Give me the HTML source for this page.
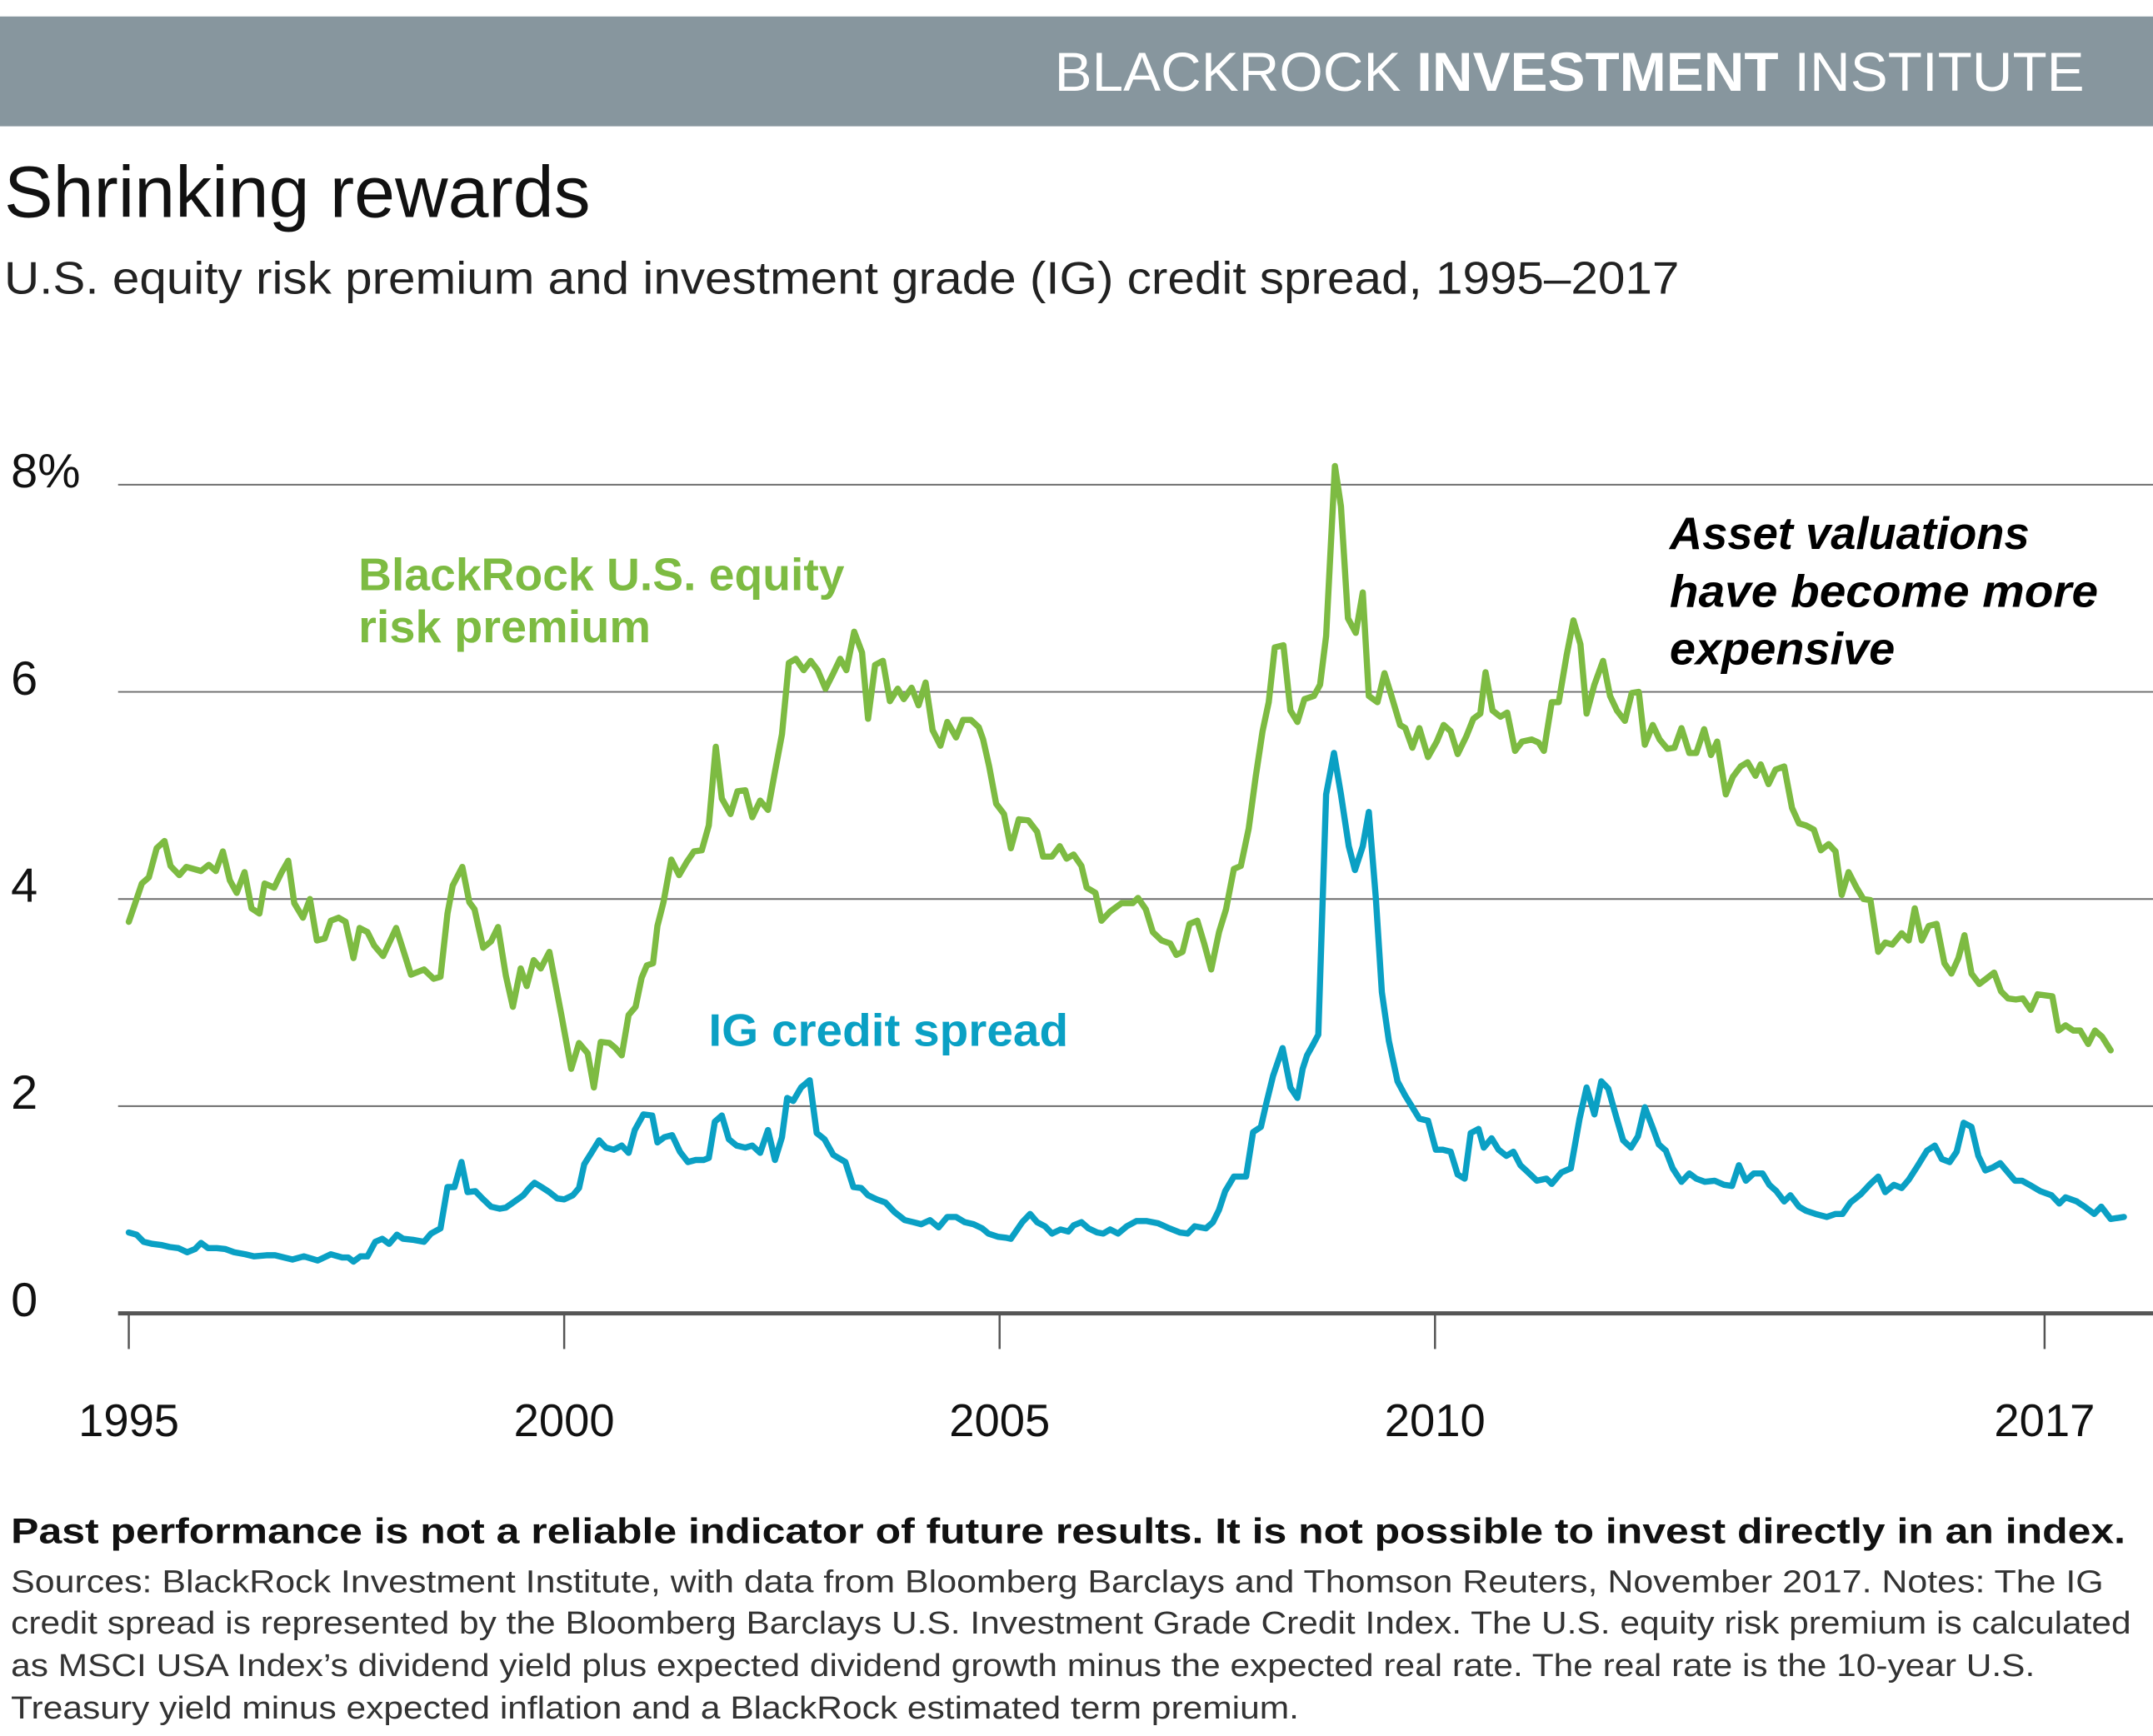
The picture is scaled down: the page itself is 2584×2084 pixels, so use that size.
<!DOCTYPE html>
<html><head><meta charset="utf-8"><style>
html,body{margin:0;padding:0;background:#fff;}
svg{display:block;}
text{font-family:"Liberation Sans",sans-serif;}
</style></head><body>
<svg id="chart" width="2584" height="2084" viewBox="0 0 1568 1264.6" xmlns="http://www.w3.org/2000/svg">
<rect x="0" y="12" width="1568" height="80" fill="#87969e"/>
<text x="768" y="66" font-size="40" fill="#fff" textLength="750" lengthAdjust="spacingAndGlyphs"><tspan font-weight="normal">BLACKROCK </tspan><tspan font-weight="bold">INVESTMENT</tspan><tspan> INSTITUTE</tspan></text>
<text x="3" y="158" font-size="53" fill="#111" textLength="427" lengthAdjust="spacingAndGlyphs">Shrinking rewards</text>
<text x="3" y="214" font-size="33" fill="#222" textLength="1220" lengthAdjust="spacingAndGlyphs">U.S. equity risk premium and investment grade (IG) credit spread, 1995–2017</text>
<g id="grid"></g>
<g id="series"></g>
<text x="261" y="430" font-size="33" font-weight="bold" fill="#7dbb42" textLength="354" lengthAdjust="spacingAndGlyphs">BlackRock U.S. equity</text>
<text x="261" y="468" font-size="33" font-weight="bold" fill="#7dbb42" textLength="213" lengthAdjust="spacingAndGlyphs">risk premium</text>
<text x="516" y="762" font-size="33" font-weight="bold" fill="#0aa0c4" textLength="262" lengthAdjust="spacingAndGlyphs">IG credit spread</text>
<g font-size="33" font-style="italic" font-weight="bold" fill="#000">
<text x="1216" y="400" textLength="262" lengthAdjust="spacingAndGlyphs">Asset valuations</text>
<text x="1216" y="442" textLength="312" lengthAdjust="spacingAndGlyphs">have become more</text>
<text x="1216" y="484" textLength="164" lengthAdjust="spacingAndGlyphs">expensive</text>
</g>
<text x="8" y="1124" font-size="26" font-weight="bold" fill="#111" textLength="1540" lengthAdjust="spacingAndGlyphs">Past performance is not a reliable indicator of future results. It is not possible to invest directly in an index.</text>
<g font-size="23" fill="#333">
<text x="8" y="1160" textLength="1524" lengthAdjust="spacingAndGlyphs">Sources: BlackRock Investment Institute, with data from Bloomberg Barclays and Thomson Reuters, November 2017. Notes: The IG</text>
<text x="8" y="1190" textLength="1544" lengthAdjust="spacingAndGlyphs">credit spread is represented by the Bloomberg Barclays U.S. Investment Grade Credit Index. The U.S. equity risk premium is calculated</text>
<text x="8" y="1221" textLength="1474" lengthAdjust="spacingAndGlyphs">as MSCI USA Index’s dividend yield plus expected dividend growth minus the expected real rate. The real rate is the 10-year U.S.</text>
<text x="8" y="1252" textLength="938" lengthAdjust="spacingAndGlyphs">Treasury yield minus expected inflation and a BlackRock estimated term premium.</text>
</g>
</svg>
<script>
const yTicks = [0, 2, 4, 6, 8];
const yTickLabels = ["0", "2", "4", "6", "8%"];
const xTicks = [1995, 2000, 2005, 2010, 2017];
const xTickLabels = ["1995", "2000", "2005", "2010", "2017"];
const erpYears = [1995.0,1995.07,1995.15,1995.23,1995.32,1995.41,1995.48,1995.58,1995.66,1995.83,1995.92,1996.0,1996.08,1996.16,1996.24,1996.33,1996.41,1996.5,1996.56,1996.67,1996.75,1996.83,1996.9,1997.0,1997.08,1997.16,1997.25,1997.32,1997.41,1997.49,1997.58,1997.65,1997.74,1997.82,1997.92,1998.07,1998.15,1998.24,1998.39,1998.5,1998.58,1998.66,1998.72,1998.83,1998.91,1998.97,1999.07,1999.16,1999.24,1999.33,1999.41,1999.5,1999.57,1999.65,1999.73,1999.83,1999.97,2000.08,2000.17,2000.27,2000.34,2000.42,2000.52,2000.59,2000.66,2000.74,2000.82,2000.89,2000.95,2001.02,2001.07,2001.14,2001.23,2001.32,2001.41,2001.49,2001.58,2001.66,2001.74,2001.81,2001.91,2001.99,2002.08,2002.16,2002.25,2002.34,2002.42,2002.5,2002.58,2002.66,2002.75,2002.83,2002.91,2003.0,2003.09,2003.17,2003.24,2003.33,2003.42,2003.49,2003.57,2003.66,2003.74,2003.83,2003.9,2003.99,2004.07,2004.15,2004.23,2004.32,2004.4,2004.5,2004.58,2004.67,2004.76,2004.81,2004.88,2004.96,2005.05,2005.13,2005.22,2005.33,2005.43,2005.5,2005.6,2005.69,2005.77,2005.85,2005.94,2006.0,2006.1,2006.17,2006.27,2006.4,2006.53,2006.59,2006.68,2006.76,2006.86,2006.96,2007.03,2007.1,2007.18,2007.27,2007.35,2007.43,2007.52,2007.6,2007.69,2007.77,2007.86,2007.94,2008.02,2008.09,2008.16,2008.26,2008.34,2008.42,2008.5,2008.61,2008.68,2008.75,2008.85,2008.92,2009.0,2009.09,2009.17,2009.24,2009.34,2009.42,2009.5,2009.6,2009.66,2009.74,2009.82,2009.92,2010.02,2010.1,2010.18,2010.26,2010.36,2010.44,2010.52,2010.58,2010.66,2010.75,2010.83,2010.92,2011.0,2011.11,2011.19,2011.25,2011.34,2011.42,2011.51,2011.59,2011.67,2011.74,2011.83,2011.93,2012.01,2012.09,2012.18,2012.26,2012.34,2012.41,2012.5,2012.58,2012.67,2012.75,2012.83,2012.92,2013.0,2013.09,2013.17,2013.24,2013.34,2013.42,2013.51,2013.59,2013.68,2013.74,2013.83,2013.91,2014.01,2014.1,2014.18,2014.26,2014.35,2014.43,2014.52,2014.6,2014.67,2014.75,2014.84,2014.92,2015.0,2015.09,2015.17,2015.25,2015.36,2015.44,2015.51,2015.59,2015.67,2015.76,2015.85,2015.93,2016.01,2016.08,2016.16,2016.25,2016.33,2016.42,2016.5,2016.58,2016.67,2016.75,2016.84,2016.92,2017.01,2017.09,2017.16,2017.24,2017.33,2017.41,2017.5,2017.58,2017.66,2017.76];
const erpValues = [3.78,3.95,4.15,4.21,4.49,4.56,4.32,4.23,4.31,4.27,4.33,4.27,4.46,4.18,4.06,4.26,3.91,3.86,4.15,4.11,4.25,4.37,3.96,3.82,4.0,3.6,3.62,3.79,3.82,3.78,3.43,3.72,3.68,3.55,3.45,3.72,3.51,3.27,3.32,3.23,3.25,3.86,4.13,4.31,3.97,3.9,3.53,3.59,3.73,3.26,2.96,3.33,3.16,3.41,3.33,3.49,2.87,2.36,2.61,2.51,2.18,2.62,2.61,2.56,2.49,2.88,2.96,3.24,3.36,3.38,3.74,3.97,4.38,4.23,4.36,4.46,4.47,4.71,5.47,4.97,4.82,5.04,5.05,4.79,4.95,4.86,5.23,5.59,6.28,6.32,6.21,6.3,6.21,6.03,6.18,6.32,6.21,6.58,6.38,5.74,6.26,6.3,5.91,6.03,5.93,6.04,5.87,6.09,5.63,5.48,5.71,5.56,5.73,5.73,5.66,5.54,5.28,4.92,4.82,4.49,4.77,4.76,4.65,4.41,4.41,4.51,4.39,4.43,4.32,4.11,4.06,3.79,3.88,3.96,3.96,4.01,3.9,3.68,3.6,3.57,3.46,3.49,3.76,3.79,3.57,3.32,3.68,3.9,4.29,4.32,4.68,5.18,5.62,5.9,6.43,6.45,5.82,5.71,5.93,5.96,6.07,6.54,8.18,7.79,6.71,6.57,6.96,5.96,5.9,6.18,5.96,5.68,5.65,5.46,5.65,5.37,5.52,5.68,5.62,5.4,5.57,5.74,5.79,6.19,5.82,5.76,5.8,5.43,5.52,5.54,5.51,5.43,5.9,5.9,6.35,6.69,6.46,5.79,6.07,6.3,5.96,5.82,5.72,5.99,6.0,5.49,5.68,5.54,5.45,5.46,5.65,5.41,5.41,5.64,5.39,5.52,5.01,5.18,5.28,5.32,5.19,5.3,5.11,5.25,5.28,4.88,4.73,4.71,4.67,4.47,4.53,4.46,4.04,4.26,4.11,4.0,3.99,3.49,3.58,3.56,3.67,3.6,3.91,3.6,3.74,3.76,3.38,3.28,3.43,3.65,3.28,3.18,3.23,3.29,3.11,3.04,3.03,3.04,2.93,3.08,3.07,3.06,2.73,2.78,2.73,2.73,2.6,2.73,2.67,2.54];
const igYears = [1995.0,1995.09,1995.17,1995.27,1995.37,1995.47,1995.57,1995.67,1995.76,1995.83,1995.91,1996.01,1996.11,1996.21,1996.34,1996.44,1996.58,1996.68,1996.78,1996.88,1997.01,1997.17,1997.32,1997.45,1997.52,1997.58,1997.66,1997.74,1997.83,1997.91,1997.99,1998.08,1998.15,1998.26,1998.39,1998.47,1998.58,1998.66,1998.74,1998.82,1998.89,1998.98,1999.06,1999.16,1999.26,1999.33,1999.43,1999.53,1999.6,1999.66,1999.74,1999.83,1999.92,2000.0,2000.1,2000.17,2000.23,2000.32,2000.4,2000.48,2000.57,2000.66,2000.74,2000.81,2000.91,2001.01,2001.07,2001.15,2001.24,2001.33,2001.42,2001.51,2001.6,2001.66,2001.73,2001.81,2001.89,2001.98,2002.08,2002.16,2002.25,2002.34,2002.42,2002.5,2002.56,2002.63,2002.72,2002.82,2002.9,2002.99,2003.09,2003.23,2003.32,2003.41,2003.49,2003.59,2003.69,2003.79,2003.91,2004.01,2004.1,2004.2,2004.3,2004.4,2004.5,2004.6,2004.7,2004.8,2004.87,2004.98,2005.07,2005.13,2005.26,2005.35,2005.43,2005.52,2005.6,2005.7,2005.79,2005.85,2005.94,2006.02,2006.12,2006.19,2006.27,2006.36,2006.46,2006.57,2006.69,2006.82,2006.95,2007.07,2007.16,2007.24,2007.37,2007.45,2007.52,2007.59,2007.69,2007.83,2007.91,2008.0,2008.06,2008.14,2008.25,2008.34,2008.42,2008.48,2008.53,2008.59,2008.66,2008.75,2008.84,2008.92,2009.01,2009.08,2009.17,2009.24,2009.32,2009.39,2009.47,2009.57,2009.66,2009.74,2009.82,2009.92,2010.01,2010.09,2010.18,2010.26,2010.34,2010.41,2010.5,2010.56,2010.65,2010.73,2010.82,2010.9,2010.98,2011.07,2011.17,2011.28,2011.34,2011.45,2011.56,2011.66,2011.74,2011.83,2011.91,2011.99,2012.08,2012.16,2012.25,2012.33,2012.41,2012.5,2012.57,2012.65,2012.73,2012.83,2012.92,2013.0,2013.1,2013.21,2013.32,2013.41,2013.49,2013.57,2013.66,2013.76,2013.84,2013.92,2014.01,2014.08,2014.18,2014.26,2014.37,2014.5,2014.6,2014.68,2014.77,2014.89,2015.0,2015.09,2015.17,2015.27,2015.36,2015.44,2015.54,2015.65,2015.74,2015.82,2015.91,2015.99,2016.07,2016.16,2016.24,2016.32,2016.41,2016.49,2016.58,2016.66,2016.74,2016.85,2016.95,2017.08,2017.17,2017.24,2017.37,2017.46,2017.57,2017.65,2017.76,2017.91];
const igValues = [0.78,0.76,0.69,0.67,0.66,0.64,0.63,0.59,0.62,0.68,0.63,0.63,0.62,0.59,0.57,0.55,0.56,0.56,0.54,0.52,0.55,0.51,0.57,0.54,0.54,0.5,0.55,0.55,0.69,0.72,0.67,0.76,0.72,0.71,0.69,0.77,0.82,1.22,1.22,1.46,1.17,1.18,1.11,1.03,1.01,1.02,1.08,1.14,1.21,1.26,1.22,1.17,1.11,1.1,1.14,1.21,1.44,1.56,1.67,1.6,1.58,1.62,1.55,1.77,1.92,1.91,1.65,1.7,1.72,1.56,1.46,1.48,1.48,1.5,1.85,1.91,1.68,1.62,1.6,1.62,1.55,1.77,1.48,1.7,2.08,2.05,2.18,2.25,1.74,1.68,1.53,1.46,1.22,1.21,1.14,1.1,1.07,0.98,0.9,0.88,0.86,0.9,0.83,0.93,0.93,0.88,0.86,0.82,0.77,0.74,0.73,0.72,0.88,0.96,0.88,0.84,0.77,0.81,0.79,0.85,0.88,0.82,0.78,0.77,0.81,0.77,0.84,0.89,0.89,0.87,0.82,0.78,0.77,0.84,0.82,0.88,1.0,1.18,1.32,1.32,1.75,1.8,2.02,2.29,2.56,2.18,2.08,2.36,2.49,2.58,2.69,5.01,5.41,5.01,4.51,4.28,4.51,4.84,4.01,3.1,2.63,2.24,2.1,1.99,1.88,1.86,1.58,1.58,1.56,1.34,1.3,1.74,1.78,1.6,1.69,1.58,1.52,1.56,1.43,1.36,1.28,1.3,1.25,1.36,1.4,1.88,2.18,1.92,2.24,2.17,1.9,1.67,1.6,1.71,1.99,1.79,1.63,1.57,1.4,1.27,1.35,1.3,1.27,1.28,1.24,1.23,1.43,1.28,1.35,1.35,1.24,1.18,1.08,1.14,1.03,0.99,0.96,0.93,0.96,0.96,1.07,1.15,1.25,1.32,1.17,1.24,1.21,1.29,1.42,1.57,1.62,1.49,1.46,1.56,1.84,1.8,1.52,1.38,1.41,1.45,1.36,1.28,1.28,1.23,1.18,1.14,1.06,1.12,1.08,1.03,0.96,1.03,0.91,0.93];

const NS = "http://www.w3.org/2000/svg";
function xScale(yr){ return 93.8 + (yr - 1995) * 63.42; }
function yScale(v){ return 956.7 - v * 75.45; }
const grid = document.getElementById('grid');
const series = document.getElementById('series');
function mk(tag, attrs, parent){ const e = document.createElementNS(NS, tag); for (const k in attrs) e.setAttribute(k, attrs[k]); parent.appendChild(e); return e; }

yTicks.forEach((t, i) => {
  if (t !== 0) {
    const l = mk('line', {x1: 86, x2: 1568, y1: yScale(t), y2: yScale(t), stroke: '#6d6d6d', 'stroke-width': 1.2}, grid);
    
    
  }
  const tx = mk('text', {x: 8, y: yScale(t) + 2, 'font-size': 35, fill: '#111'}, grid);
  tx.textContent = yTickLabels[i];
  
  
});
const axis = mk('line', {x1: 86, x2: 1568, y1: yScale(0), y2: yScale(0), stroke: '#555', 'stroke-width': 3}, grid);


xTicks.forEach((t, i) => {
  const l = mk('line', {x1: xScale(t), x2: xScale(t), y1: yScale(0), y2: yScale(0) + 26, stroke: '#555', 'stroke-width': 1.5}, grid);
  
  
  const tx = mk('text', {x: xScale(t), y: 1046, 'font-size': 33, fill: '#111', 'text-anchor': 'middle'}, grid);
  tx.textContent = xTickLabels[i];
  
  
});
function linePath(xs, ys){ return xs.map((x, i) => (i ? 'L' : 'M') + xScale(x).toFixed(1) + ',' + yScale(ys[i]).toFixed(1)).join(''); }
const p1 = mk('path', {d: linePath(erpYears, erpValues), fill: 'none', stroke: '#7dbb42', 'stroke-width': 4.5, 'stroke-linejoin': 'round', 'stroke-linecap': 'round'}, series);


const p2 = mk('path', {d: linePath(igYears, igValues), fill: 'none', stroke: '#0aa0c4', 'stroke-width': 4.5, 'stroke-linejoin': 'round', 'stroke-linecap': 'round'}, series);


</script>
</body></html>
